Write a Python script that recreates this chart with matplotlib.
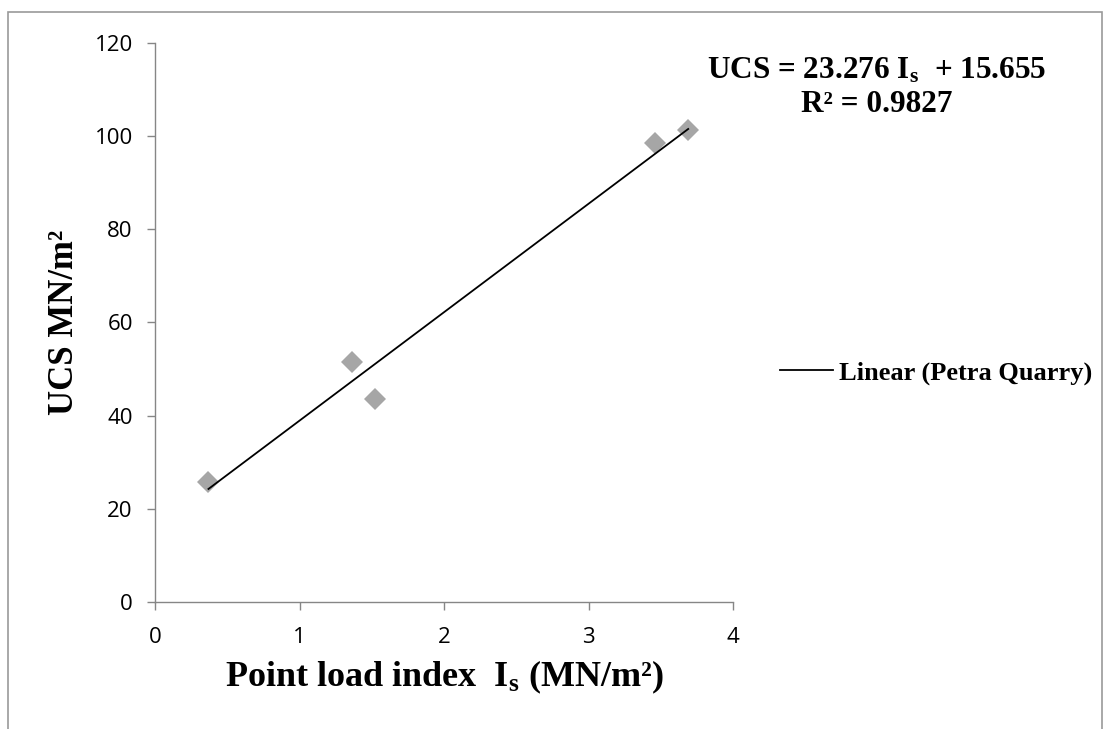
import matplotlib
matplotlib.use("Agg")
import matplotlib.pyplot as plt
import numpy as np
from matplotlib.patches import Rectangle

# Data
is_values = [0.37, 1.36, 1.52, 3.46, 3.69]
ucs_values = [25.8, 51.5, 43.6, 98.5, 101.3]
slope = 23.276
intercept = 15.655
r2 = 0.9827
x_ticks = [0, 1, 2, 3, 4]
y_ticks = [0, 20, 40, 60, 80, 100, 120]

plt.rcParams['mathtext.fontset'] = 'custom'
plt.rcParams['mathtext.rm'] = 'Liberation Serif'
plt.rcParams['mathtext.bf'] = 'Liberation Serif:bold'
plt.rcParams['mathtext.it'] = 'Liberation Serif:italic'

W, H = 1110, 729
fig = plt.figure(figsize=(W / 100, H / 100), dpi=100)
fig.patch.set_facecolor('white')

# outer border
fig.add_artist(Rectangle((8 / W, -0.01), (1102 - 8) / W, (H - 12) / H + 0.01,
                         transform=fig.transFigure, fill=False,
                         edgecolor='#9a9a9a', linewidth=1.2))

ax = fig.add_axes([155 / W, (H - 602) / H, (733 - 155) / W, (602 - 43) / H])
ax.set_xlim(0, 4)
ax.set_ylim(0, 120)

grey = '#868686'
for s in ['top', 'right']:
    ax.spines[s].set_visible(False)
for s in ['left', 'bottom']:
    ax.spines[s].set_color(grey)
    ax.spines[s].set_linewidth(1.0)
ax.tick_params(direction='out', length=6, color=grey, width=1.0, labelsize=16)
ax.tick_params(axis='x', pad=12)
ax.tick_params(axis='y', pad=10)
ax.set_xticks(x_ticks)
ax.set_yticks(y_ticks)
for lab in ax.get_xticklabels() + ax.get_yticklabels():
    lab.set_fontfamily('Open Sans')

ax.plot(is_values, ucs_values, linestyle='none', marker='D', markersize=11.5,
        color='#a6a6a6', markeredgewidth=0, zorder=2)

xf = np.array([min(is_values), max(is_values)])
ax.plot(xf, slope * xf + intercept, color='black', linewidth=1.3, zorder=3,
        label='Linear (Petra Quarry)')

ax.set_xlabel(r'Point load index  I$_{\mathbf{s}}$ (MN/m²)', fontfamily='Liberation Serif',
              fontweight='bold', fontsize=26, labelpad=8)
ax.set_ylabel('UCS MN/m²', fontfamily='Liberation Serif', fontweight='bold',
              fontsize=25, labelpad=10)

fig.text(877 / W, 1 - 71 / H, r'UCS = 23.276 I$_{\mathbf{s}}$  + 15.655',
         fontfamily='Liberation Serif', fontweight='bold', fontsize=22.5,
         ha='center', va='center')
fig.text(877 / W, 1 - 105 / H, f'R² = {r2}',
         fontfamily='Liberation Serif', fontweight='bold', fontsize=22.5,
         ha='center', va='center')

leg = ax.legend(loc='center left', bbox_to_anchor=(780 / W, 1 - 373 / H),
                bbox_transform=fig.transFigure, frameon=False,
                prop={'family': 'Liberation Serif', 'weight': 'bold', 'size': 19},
                handlelength=2.0, handletextpad=0.25, borderpad=0, borderaxespad=0)

fig.savefig('out.png', dpi=100, facecolor='white')
